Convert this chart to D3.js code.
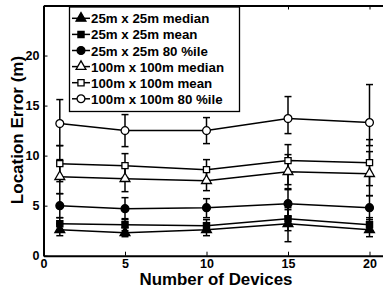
<!DOCTYPE html>
<html><head><meta charset="utf-8">
<script src="https://cdn.jsdelivr.net/npm/d3@7"></script>
<style>body{margin:0;background:#fff}svg{display:block}text{font-family:"Liberation Sans",Arial,sans-serif;font-weight:bold}</style>
</head><body>
<svg id="c" width="383" height="290"></svg>
<script>
const devices = [1, 5, 10, 15, 20];
const seriesNames = ["25m x 25m median","25m x 25m mean","25m x 25m 80 %ile","100m x 100m median","100m x 100m mean","100m x 100m 80 %ile"];
const markers = ["triangle","square","circle","triangle","square","circle"];
const filled = [true,true,true,false,false,false];
const med25 = [2.6,2.3,2.6,3.2,2.6], med25Lo=[2.0,1.9,2.0,1.4,1.9], med25Hi=[3.2,2.8,3.3,4.6,3.4];
const mean25 = [3.2,3.1,3.0,3.7,3.1], mean25Lo=[2.6,2.5,2.4,2.5,2.4], mean25Hi=[3.8,3.7,3.6,4.8,3.8];
const p80_25 = [5.0,4.7,4.8,5.2,4.8], p80_25Lo=[3.8,3.6,3.8,3.9,3.6], p80_25Hi=[6.2,5.8,5.7,6.6,6.0];
const med100 = [7.9,7.7,7.5,8.4,8.2], med100Lo=[6.2,6.4,6.5,6.7,6.0], med100Hi=[9.6,9.0,8.5,10.1,10.4];
const mean100 = [9.2,9.0,8.6,9.5,9.3], mean100Lo=[7.4,7.8,7.6,7.1,7.0], mean100Hi=[11.0,10.2,9.6,11.1,11.6];
const p80_100 = [13.2,12.5,12.5,13.7,13.3], p80_100Lo=[11.0,10.9,11.2,12.2,11.0], p80_100Hi=[15.6,14.1,13.8,15.9,17.1];
const xTicks = [0,5,10,15,20];
const yTicks = [0,5,10,15,20];

const series = [
  [med25,med25Lo,med25Hi],[mean25,mean25Lo,mean25Hi],[p80_25,p80_25Lo,p80_25Hi],
  [med100,med100Lo,med100Hi],[mean100,mean100Lo,mean100Hi],[p80_100,p80_100Lo,p80_100Hi]
];

const L=43.5, T=5.5, B=255.7;
const x = d3.scaleLinear().domain([0,21]).range([L, L+21*16.3]);
const y = d3.scaleLinear().domain([0,25]).range([B, T]);
const svg = d3.select("#c");

function markerPath(type, size){
  const sym = type==="triangle"?d3.symbolTriangle:type==="square"?d3.symbolSquare:d3.symbolCircle;
  return d3.symbol().type(sym).size(size)();
}
const msize = {triangle:42, square:38, circle:48};

// error bars
series.forEach((s,i)=>{
  const g = svg.append("g");
  devices.forEach((d,j)=>{
    const cx = x(d);
    g.append("line").attr("x1",cx).attr("x2",cx).attr("y1",y(s[1][j])).attr("y2",y(s[2][j])).attr("stroke","#000").attr("stroke-width",1.5);
    [s[1][j],s[2][j]].forEach(v=>{
      g.append("line").attr("x1",cx-3.5).attr("x2",cx+3.5).attr("y1",y(v)).attr("y2",y(v)).attr("stroke","#000").attr("stroke-width",1.5);
    });
  });
});
// lines and markers
series.forEach((s,i)=>{
  svg.append("path").datum(devices.map((d,j)=>[d,s[0][j]]))
    .attr("d", d3.line().x(p=>x(p[0])).y(p=>y(p[1])))
    .attr("fill","none").attr("stroke","#000").attr("stroke-width",1.5);
  devices.forEach((d,j)=>{
    svg.append("path").attr("d",markerPath(markers[i], msize[markers[i]]))
      .attr("transform",`translate(${x(d)},${y(s[0][j])})`)
      .attr("fill",filled[i]?"#000":"#fff").attr("stroke","#000").attr("stroke-width",1.3);
  });
});

// axes
const ax = svg.append("g").attr("transform",`translate(0,${B})`)
  .call(d3.axisBottom(x).tickValues(xTicks).tickSizeInner(-4).tickSizeOuter(0).tickPadding(3));
const axT = svg.append("g").attr("transform",`translate(0,${T})`)
  .call(d3.axisTop(x).tickValues(xTicks).tickSizeInner(-4).tickSizeOuter(0).tickFormat(""));
const ay = svg.append("g").attr("transform",`translate(${L},0)`)
  .call(d3.axisLeft(y).tickValues(yTicks).tickSizeInner(-4).tickSizeOuter(0).tickPadding(4));
[ax,axT,ay].forEach(a=>{
  a.select(".domain").attr("stroke","#000").attr("stroke-width",2);
  a.selectAll(".tick line").attr("stroke","#000").attr("stroke-width",1);
  a.selectAll(".tick text").attr("font-size",12.5).attr("font-weight","bold").attr("fill","#000")
    .style("font-family","'Liberation Sans',Arial,sans-serif");
});

svg.append("text").attr("x",216).attr("y",284.5).attr("text-anchor","middle").attr("font-size",16.9).text("Number of Devices");
svg.append("text").attr("transform",`translate(23,130) rotate(-90)`).attr("text-anchor","middle").attr("font-size",17).text("Location Error (m)");

// legend
const lg = svg.append("g");
lg.append("rect").attr("x",69.5).attr("y",7).attr("width",170).attr("height",104.5).attr("fill","#fff").attr("stroke","#000").attr("stroke-width",1.3);
seriesNames.forEach((n,i)=>{
  const cy = 18.3 + i*16.1;
  lg.append("line").attr("x1",72).attr("x2",90).attr("y1",cy).attr("y2",cy).attr("stroke","#000").attr("stroke-width",1.5);
  lg.append("path").attr("d",markerPath(markers[i], msize[markers[i]])).attr("transform",`translate(81,${cy})`)
    .attr("fill",filled[i]?"#000":"#fff").attr("stroke","#000").attr("stroke-width",1.3);
  lg.append("text").attr("x",91).attr("y",cy+5).attr("font-size",13.3).text(n);
});
</script>
</body></html>
